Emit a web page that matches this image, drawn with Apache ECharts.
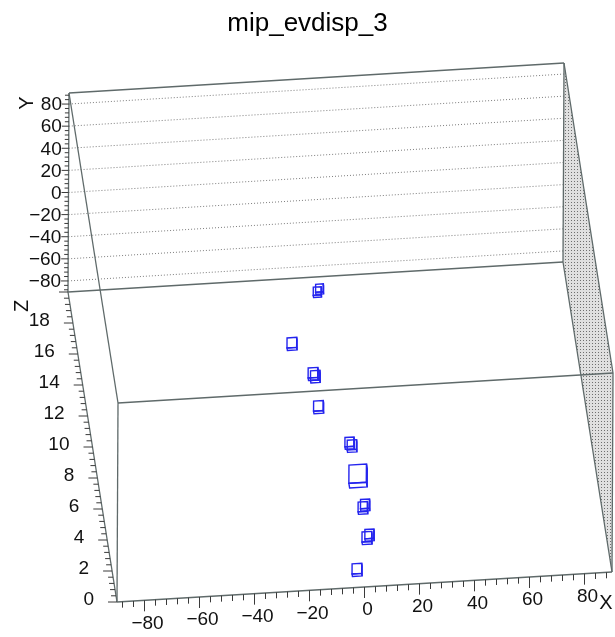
<!DOCTYPE html>
<html>
<head>
<meta charset="utf-8">
<script src="https://cdn.jsdelivr.net/npm/echarts@6/dist/echarts.min.js"></script>
<style>
html,body{margin:0;padding:0;background:#fff;}
#c{width:615px;height:637px;}
</style>
</head>
<body>
<div id="c"></div>
<script>
// ---------------- data ----------------
const chartTitle = 'mip_evdisp_3';
const xRange = [-90, 90];
const yRange = [-90, 90];
const zRange = [0, 20];
const xTicks = [-80, -60, -40, -20, 0, 20, 40, 60, 80];
const yTicks = [-80, -60, -40, -20, 0, 20, 40, 60, 80];
const zTicks = [0, 2, 4, 6, 8, 10, 12, 14, 16, 18];
// filled TH3 cells (bin centre x, y, z and bin content)
const hitX = [-1.8, 3.6, 3.9, 3.9, 3.5, -6.9, -7.1, -13.0, -0.2, 4.5, 4.7, 2.6, -6.3, 0.6];
const hitY = [-88.3, -88.3, -89.2, -88.3, -89.2, -80.5, -78.5, -78.5, -89.6, -85.8, -86.7, -86.4, -81.0, -87.0];
const hitZ = [1, 3, 5, 7, 9, 11, 13, 15, 19, 3, 5, 9, 13, 19];
const hitContent = [1.0, 1.0, 0.9, 6.0, 0.9, 1.0, 1.0, 1.0, 0.55, 0.8, 0.8, 0.8, 0.9, 0.5];

// ---------------- layout / projection ----------------
const W = 615, H = 637;
const P0 = [117, 602];            // screen position of (xMin, yMin, zMin)
const EX = [2.75, -0.1667];       // pixels per unit of X
const EY = [0.0056, -1.1056];     // pixels per unit of Y
const EZ = [-2.45, -15.5];        // pixels per unit of Z
function proj(x, y, z) {
  const dx = x - xRange[0], dy = y - yRange[0], dz = z - zRange[0];
  return [P0[0] + dx * EX[0] + dy * EY[0] + dz * EZ[0],
          P0[1] + dx * EX[1] + dy * EY[1] + dz * EZ[1]];
}
const FRAME = '#5f6a6a';
const FONT = '"Liberation Sans", Arial, Helvetica, sans-serif';
const LABEL_SIZE = 19;

// dotted pattern for the side wall
const pc = document.createElement('canvas');
pc.width = 3; pc.height = 3;
const g2 = pc.getContext('2d');
g2.fillStyle = '#e0e0e0'; g2.fillRect(0, 0, 3, 3);
g2.fillStyle = '#6f6f6f'; g2.fillRect(1, 1, 1, 1);

const chart = echarts.init(document.getElementById('c'), null, {renderer: 'canvas'});

function frameRender(params, api) {
  const c = p => api.coord(p);
  const ch = [];
  const [x0, x1] = xRange, [y0, y1] = yRange, [z0, z1] = zRange;
  // side wall x = xMax (dotted fill)
  ch.push({type: 'polygon', shape: {points: [proj(x1, y0, z1), proj(x1, y0, z0), proj(x1, y1, z0), proj(x1, y1, z1)].map(c)},
           style: {fill: {image: pc, repeat: 'repeat'}, stroke: null}});
  // Y grid lines on the top plane
  yTicks.forEach(t => {
    const a = c(proj(x0, t, z1)), b = c(proj(x1, t, z1));
    ch.push({type: 'line', shape: {x1: a[0], y1: a[1], x2: b[0], y2: b[1]},
             style: {stroke: '#7e7e7e', lineWidth: 1, lineDash: [1, 2]}});
  });
  // 12 edges of the box
  const corners = [];
  [x0, x1].forEach(x => [y0, y1].forEach(y => [z0, z1].forEach(z => corners.push([x, y, z]))));
  for (let i = 0; i < 8; i++) for (let j = i + 1; j < 8; j++) {
    const a = corners[i], b = corners[j];
    let diff = 0; for (let k = 0; k < 3; k++) if (a[k] !== b[k]) diff++;
    if (diff === 1) {
      const pa = c(proj(...a)), pb = c(proj(...b));
      ch.push({type: 'line', shape: {x1: pa[0], y1: pa[1], x2: pb[0], y2: pb[1]},
               style: {stroke: FRAME, lineWidth: 1.3}});
    }
  }
  const tick = (p, dx, dy) => {
    const a = c(p);
    ch.push({type: 'line', shape: {x1: a[0], y1: a[1], x2: a[0] + dx, y2: a[1] + dy},
             style: {stroke: '#3a3a3a', lineWidth: 1}});
  };
  const label = (p, text, dx, dy, align) => {
    const a = c(p);
    ch.push({type: 'text', x: a[0] + dx, y: a[1] + dy,
             style: {text: text, fill: '#111', font: LABEL_SIZE + 'px ' + FONT, align: align, verticalAlign: 'middle'}});
  };
  const fmt = v => (v < 0 ? '\u2212' + Math.abs(v) : String(v));
  // X axis (y = yMin, z = zMin), ticks downwards
  for (let v = -88; v <= 88; v += 4) tick(proj(v, y0, z0), 0, xTicks.includes(v) ? 11 : 6);
  xTicks.forEach(v => label(proj(v, y0, z0), fmt(v), 3, 23, 'center'));
  // Y axis (x = xMin, z = zMax), ticks to the left
  for (let v = -88; v <= 88; v += 4) tick(proj(x0, v, z1), yTicks.includes(v) ? -7 : -4, 0);
  yTicks.forEach(v => label(proj(x0, v, z1), fmt(v), -7, 1, 'right'));
  // Z axis (x = xMin, y = yMin), ticks to the left
  for (let k = 0; k <= 50; k++) {
    const v = k * 0.4;
    tick(proj(x0, y0, v), (k % 5 === 0) ? -9 : -5, 0);
  }
  zTicks.forEach(v => label(proj(x0, y0, v), fmt(v), -23, -2, 'right'));
  // axis titles
  const ax = c(proj(x1, y0, z0));
  ch.push({type: 'text', x: ax[0] - 6, y: ax[1] + 31,
           style: {text: 'X', fill: '#111', font: '20px ' + FONT, align: 'center', verticalAlign: 'middle'}});
  const ay = c(proj(x0, y1, z1));
  ch.push({type: 'text', x: ay[0] - 42, y: ay[1] + 10, rotation: Math.PI / 2,
           style: {text: 'Y', fill: '#111', font: '20px ' + FONT, align: 'center', verticalAlign: 'middle'}});
  const az = c(proj(x0, y0, z1));
  ch.push({type: 'text', x: az[0] - 46, y: az[1] + 14, rotation: Math.PI / 2,
           style: {text: 'Z', fill: '#111', font: '20px ' + FONT, align: 'center', verticalAlign: 'middle'}});
  return {type: 'group', children: ch};
}

// box size for the maximum content (data units); volume proportional to content
const maxContent = Math.max(...hitContent);
const BOX_FULL = [6.4, 16.5, 0.3];
function hitRender(params, api) {
  const c = p => api.coord(p);
  const x = api.value(0), y = api.value(1), z = api.value(2), q = api.value(3);
  const f = Math.cbrt(q / maxContent);
  const hx = BOX_FULL[0] * f / 2, hy = BOX_FULL[1] * f / 2, hz = BOX_FULL[2] * f / 2;
  const st = {stroke: '#2424ee', lineWidth: 1.4, fill: null};
  const poly = pts => ({type: 'polygon', shape: {points: pts.map(p => c(proj(...p)))}, style: st});
  return {type: 'group', children: [
    poly([[x - hx, y - hy, z + hz], [x + hx, y - hy, z + hz], [x + hx, y + hy, z + hz], [x - hx, y + hy, z + hz]]),
    poly([[x - hx, y - hy, z - hz], [x + hx, y - hy, z - hz], [x + hx, y - hy, z + hz], [x - hx, y - hy, z + hz]]),
    poly([[x + hx, y - hy, z - hz], [x + hx, y + hy, z - hz], [x + hx, y + hy, z + hz], [x + hx, y - hy, z + hz]])
  ]};
}

const hitData = hitX.map((v, i) => [v, hitY[i], hitZ[i], hitContent[i]]);

chart.setOption({
  animation: false,
  backgroundColor: '#fff',
  title: {text: chartTitle, left: 'center', top: 6,
          textStyle: {fontSize: 26, fontWeight: 'normal', fontFamily: FONT, color: '#000'}},
  grid: {left: 0, right: 0, top: 0, bottom: 0},
  xAxis: {type: 'value', min: 0, max: W, show: false},
  yAxis: {type: 'value', min: 0, max: H, inverse: true, show: false},
  series: [
    {type: 'custom', clip: false, silent: true, data: [[0, 0]], renderItem: frameRender, z: 1},
    {type: 'custom', clip: false, silent: true, data: hitData, renderItem: hitRender, z: 2,
     encode: {x: -1, y: -1}}
  ]
});
</script>
</body>
</html>
